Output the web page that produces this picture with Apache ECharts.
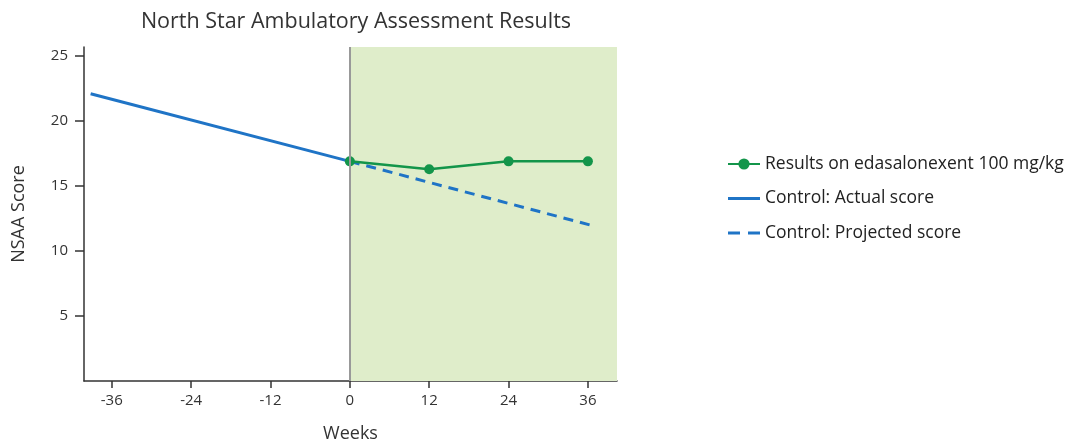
<!DOCTYPE html>
<html><head><meta charset="utf-8">
<script src="https://cdn.jsdelivr.net/npm/echarts@6/dist/echarts.min.js"></script>
<style>html,body{margin:0;padding:0;background:#fff}#c{width:1081px;height:444px}</style>
</head><body><div id="c"></div>
<script>
var weeksTreated = [0, 12, 24, 36];
var scoreTreated = [16.9, 16.3, 16.9, 16.9];
var actualWeeks = [-39.2, 0];
var actualScore = [22.1, 16.9];
var projectedWeeks = [0, 37.1];
var projectedScore = [16.9, 11.9];
var xTicks = [-36, -24, -12, 0, 12, 24, 36];
var yTicks = [5, 10, 15, 20, 25];
var seriesNames = ['Results on edasalonexent 100 mg/kg', 'Control: Actual score', 'Control: Projected score'];

var font = '"Open Sans", "Noto Sans", sans-serif';
var blue = '#1f74c6', green = '#13954a';
function pairs(xs, ys){ return xs.map(function(x,i){return [x, ys[i]];}); }

var chart = echarts.init(document.getElementById('c'));
chart.setOption({
  animation: false,
  textStyle: {fontFamily: font},
  title: {text: 'North Star Ambulatory Assessment Results', left: 351, top: 6, textAlign: 'center',
    textStyle: {fontFamily: font, fontSize: 21.5, fontWeight: 'normal', color: '#333'}},
  grid: {left: 84, right: 464, top: 47, bottom: 63, containLabel: false, outerBoundsMode: 'none'},
  legend: {orient: 'vertical', left: 722, top: 150, itemGap: 16.5, itemWidth: 32, itemHeight: 14,
    textStyle: {fontFamily: font, fontSize: 17.5, color: '#222'},
    data: [{name: seriesNames[0]},
      {name: seriesNames[1], icon: 'path://M0,0H32V3H0Z'},
      {name: seriesNames[2], icon: 'path://M0,0H12V3H0Z M20,0H32V3H20Z'}]},
  xAxis: {type: 'value', min: -40.2, max: 40.4,
    name: 'Weeks', nameLocation: 'middle', nameGap: 44,
    nameTextStyle: {fontFamily: font, fontSize: 18, color: '#333'},
    axisLine: {show: true, onZero: false, lineStyle: {color: '#333', width: 1.5}},
    axisTick: {show: true, length: 7, customValues: xTicks, lineStyle: {color: '#333', width: 1.5}},
    axisLabel: {customValues: xTicks, fontSize: 15, color: '#333', margin: 12, fontFamily: font},
    splitLine: {show: false}},
  yAxis: {type: 'value', min: 0, max: 25.7,
    name: 'NSAA Score', nameLocation: 'middle', nameGap: 56, nameRotate: 90,
    nameTextStyle: {fontFamily: font, fontSize: 18, color: '#333'},
    axisLine: {show: true, onZero: false, lineStyle: {color: '#333', width: 1.5}},
    axisTick: {show: true, length: 9, customValues: yTicks, lineStyle: {color: '#333', width: 1.5}},
    axisLabel: {customValues: yTicks, fontSize: 15, color: '#333', margin: 16, fontFamily: font},
    splitLine: {show: false}},
  series: [
    {name: seriesNames[1], type: 'line', data: pairs(actualWeeks, actualScore), symbol: 'none',
      lineStyle: {color: blue, width: 3}, itemStyle: {color: blue}, z: 3,
      markArea: {silent: true, itemStyle: {color: '#dfedca'},
        data: [[{xAxis: 0}, {xAxis: 40.4}]]},
      markLine: {silent: true, symbol: 'none', label: {show: false},
        lineStyle: {color: '#999', width: 2, type: 'solid'},
        data: [{xAxis: 0}]}},
    {name: seriesNames[2], type: 'line', data: pairs(projectedWeeks, projectedScore), symbol: 'none',
      lineStyle: {color: blue, width: 3, type: [10, 7]}, itemStyle: {color: blue}, z: 3},
    {name: seriesNames[0], type: 'line', data: pairs(weeksTreated, scoreTreated),
      symbol: 'circle', symbolSize: 10,
      lineStyle: {color: green, width: 2.5}, itemStyle: {color: green}, z: 4}
  ]
});
</script></body></html>
